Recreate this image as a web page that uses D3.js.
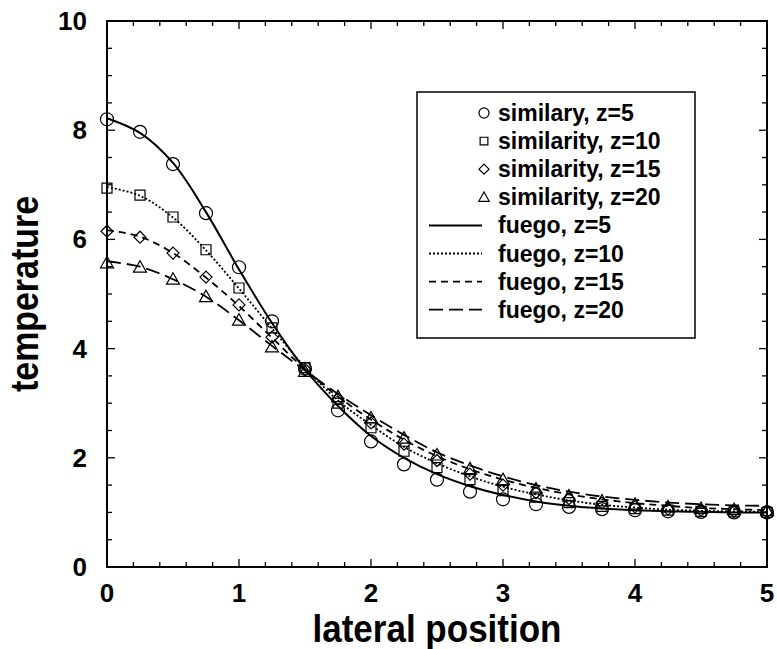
<!DOCTYPE html>
<html>
<head>
<meta charset="utf-8">
<script src="https://cdn.jsdelivr.net/npm/d3@7"></script>
<style>
  body { margin: 0; background: #fff; }
  text { font-family: "Liberation Sans", Arial, Helvetica, sans-serif; font-weight: bold; fill: #000; }
</style>
</head>
<body>
<div id="chart"></div>
<script>
const width = 777
const height = 649
const margin = { top: 21, right: 10, bottom: 82, left: 107 }

// lateral positions of the samples
const xs = [0, 0.25, 0.5, 0.75, 1, 1.25, 1.5, 1.75, 2, 2.25, 2.5, 2.75, 3, 3.25, 3.5, 3.75, 4, 4.25, 4.5, 4.75, 5]

// similarity solution (markers)
const sim5 = [8.2, 7.97, 7.38, 6.48, 5.49, 4.5, 3.63, 2.87, 2.3, 1.88, 1.6, 1.38, 1.24, 1.15, 1.1, 1.06, 1.04, 1.02, 1.01, 1.0, 1.0]
const sim10 = [6.94, 6.81, 6.41, 5.81, 5.11, 4.38, 3.65, 3.0, 2.55, 2.12, 1.82, 1.6, 1.4, 1.28, 1.18, 1.11, 1.07, 1.04, 1.02, 1.01, 1.0]
const sim15 = [6.15, 6.04, 5.75, 5.31, 4.8, 4.21, 3.62, 3.08, 2.64, 2.25, 1.95, 1.7, 1.5, 1.36, 1.25, 1.17, 1.1, 1.06, 1.04, 1.02, 1.01]
const sim20 = [5.57, 5.49, 5.27, 4.95, 4.52, 4.03, 3.58, 3.12, 2.73, 2.36, 2.05, 1.8, 1.6, 1.43, 1.3, 1.21, 1.15, 1.1, 1.07, 1.05, 1.03]

// fuego results (lines)
const fuego5 = [8.22, 7.95, 7.4, 6.5, 5.45, 4.47, 3.62, 2.95, 2.4, 2.0, 1.7, 1.48, 1.32, 1.2, 1.12, 1.07, 1.04, 1.02, 1.01, 1.0, 1.0]
const fuego10 = [6.96, 6.8, 6.4, 5.8, 5.1, 4.37, 3.66, 3.05, 2.6, 2.2, 1.9, 1.66, 1.47, 1.33, 1.22, 1.14, 1.09, 1.05, 1.03, 1.02, 1.01]
const fuego15 = [6.17, 6.05, 5.75, 5.3, 4.78, 4.2, 3.62, 3.12, 2.7, 2.33, 2.03, 1.79, 1.6, 1.45, 1.33, 1.24, 1.17, 1.12, 1.08, 1.06, 1.04]
const fuego20 = [5.6, 5.5, 5.27, 4.95, 4.52, 4.05, 3.6, 3.17, 2.78, 2.42, 2.1, 1.86, 1.66, 1.5, 1.38, 1.29, 1.23, 1.18, 1.15, 1.13, 1.12]

const simLabels = ['similary, z=5', 'similarity, z=10', 'similarity, z=15', 'similarity, z=20']
const fuegoLabels = ['fuego, z=5', 'fuego, z=10', 'fuego, z=15', 'fuego, z=20']

const xTicks = [0, 1, 2, 3, 4, 5]
const yTicks = [0, 2, 4, 6, 8, 10]

const innerW = width - margin.left - margin.right
const innerH = height - margin.top - margin.bottom

const x = d3.scaleLinear().domain([0, 5]).range([0, innerW])
const y = d3.scaleLinear().domain([0, 10]).range([innerH, 0])

// custom diamond / triangle shapes
const diamond = {
    draw(ctx, size) {
        const r = Math.sqrt(size) / 2
        ctx.moveTo(0, -r); ctx.lineTo(r, 0); ctx.lineTo(0, r); ctx.lineTo(-r, 0); ctx.closePath()
    }
}
const triangle = {
    draw(ctx, size) {
        const w = Math.sqrt(size)
        ctx.moveTo(0, -w * 0.5); ctx.lineTo(w * 0.5, w * 0.38); ctx.lineTo(-w * 0.5, w * 0.38); ctx.closePath()
    }
}
const markerTypes = [d3.symbolCircle, d3.symbolSquare, diamond, triangle]
const markerSizes = [133, 100, 144, 169]
const legendSizes = [80, 60, 100, 110]
const dashes = [null, '2,2', '7,5', '14,6']

const svg = d3.select('#chart').append('svg')
    .attr('width', width)
    .attr('height', height)

const g = svg.append('g')
    .attr('transform', 'translate(' + margin.left + ',' + margin.top + ')')

// ticks (inward, all four sides)
const xMinor = d3.range(0, 5.0001, 0.2)
const yMinor = d3.range(0, 10.0001, 0.5)
const tickG = g.append('g').attr('stroke', '#000').attr('stroke-width', 1.3)

xMinor.forEach(v => {
    const major = Math.abs(v - Math.round(v)) < 1e-6
    const len = major ? 8 : 5
    tickG.append('line').attr('x1', x(v)).attr('x2', x(v)).attr('y1', innerH).attr('y2', innerH - len)
    tickG.append('line').attr('x1', x(v)).attr('x2', x(v)).attr('y1', 0).attr('y2', len)
})
yMinor.forEach(v => {
    const major = Math.abs(v / 2 - Math.round(v / 2)) < 1e-6
    const len = major ? 8 : 5
    tickG.append('line').attr('y1', y(v)).attr('y2', y(v)).attr('x1', 0).attr('x2', len)
    tickG.append('line').attr('y1', y(v)).attr('y2', y(v)).attr('x1', innerW).attr('x2', innerW - len)
})

// frame
g.append('rect')
    .attr('width', innerW)
    .attr('height', innerH)
    .attr('fill', 'none')
    .attr('stroke', '#000')
    .attr('stroke-width', 2)

// tick labels
g.selectAll('.xlab').data(xTicks).enter().append('text')
    .attr('class', 'xlab')
    .attr('x', d => x(d))
    .attr('y', innerH + 35)
    .attr('text-anchor', 'middle')
    .style('font-size', '26px')
    .text(d => d)

g.selectAll('.ylab').data(yTicks).enter().append('text')
    .attr('class', 'ylab')
    .attr('x', -20)
    .attr('y', d => y(d) + 9)
    .attr('text-anchor', 'end')
    .style('font-size', '26px')
    .text(d => d)

// axis titles
svg.append('text')
    .attr('x', margin.left + innerW / 2)
    .attr('y', 642)
    .attr('text-anchor', 'middle')
    .attr('textLength', 249)
    .attr('lengthAdjust', 'spacingAndGlyphs')
    .style('font-size', '39px')
    .text('lateral position')

svg.append('text')
    .attr('transform', 'translate(38,' + (margin.top + innerH / 2) + ') rotate(-90)')
    .attr('text-anchor', 'middle')
    .attr('textLength', 196)
    .attr('lengthAdjust', 'spacingAndGlyphs')
    .style('font-size', '39px')
    .text('temperature')

// fuego lines
const lineGen = d3.line()
    .x(d => x(d[0]))
    .y(d => y(d[1]))
    .curve(d3.curveCatmullRom)

const fuego = [fuego5, fuego10, fuego15, fuego20]
fuego.forEach((vals, i) => {
    g.append('path')
        .datum(xs.map((v, j) => [v, vals[j]]))
        .attr('d', lineGen)
        .attr('fill', 'none')
        .attr('stroke', '#000')
        .attr('stroke-width', i == 0 ? 2 : 1.8)
        .attr('stroke-dasharray', dashes[i])
})

// similarity markers
const sims = [sim5, sim10, sim15, sim20]
sims.forEach((vals, i) => {
    const sym = d3.symbol().type(markerTypes[i]).size(markerSizes[i])
    g.selectAll('.m' + i).data(xs.map((v, j) => [v, vals[j]])).enter().append('path')
        .attr('class', 'm' + i)
        .attr('transform', d => 'translate(' + x(d[0]) + ',' + y(d[1]) + ')')
        .attr('d', sym)
        .attr('fill', 'none')
        .attr('stroke', '#000')
        .attr('stroke-width', 1.2)
})

// legend
const legend = svg.append('g')
legend.append('rect')
    .attr('x', 417).attr('y', 92)
    .attr('width', 278).attr('height', 246)
    .attr('fill', '#fff')
    .attr('stroke', '#000')
    .attr('stroke-width', 1.5)

const rowY = i => 121 + 28.1 * i
simLabels.forEach((lab, i) => {
    const sym = d3.symbol().type(markerTypes[i]).size(legendSizes[i])
    legend.append('path')
        .attr('transform', 'translate(484,' + (rowY(i) - 8) + ')')
        .attr('d', sym)
        .attr('fill', 'none')
        .attr('stroke', '#000')
        .attr('stroke-width', 1.2)
    legend.append('text')
        .attr('x', 498).attr('y', rowY(i))
        .style('font-size', '23px')
        .text(lab)
})
fuegoLabels.forEach((lab, k) => {
    const i = k + 4
    legend.append('line')
        .attr('x1', 429).attr('x2', 482)
        .attr('y1', rowY(i) - 8).attr('y2', rowY(i) - 8)
        .attr('stroke', '#000')
        .attr('stroke-width', k == 0 ? 2 : 1.8)
        .attr('stroke-dasharray', dashes[k])
    legend.append('text')
        .attr('x', 498).attr('y', rowY(i))
        .style('font-size', '23px')
        .text(lab)
})
</script>
</body>
</html>
